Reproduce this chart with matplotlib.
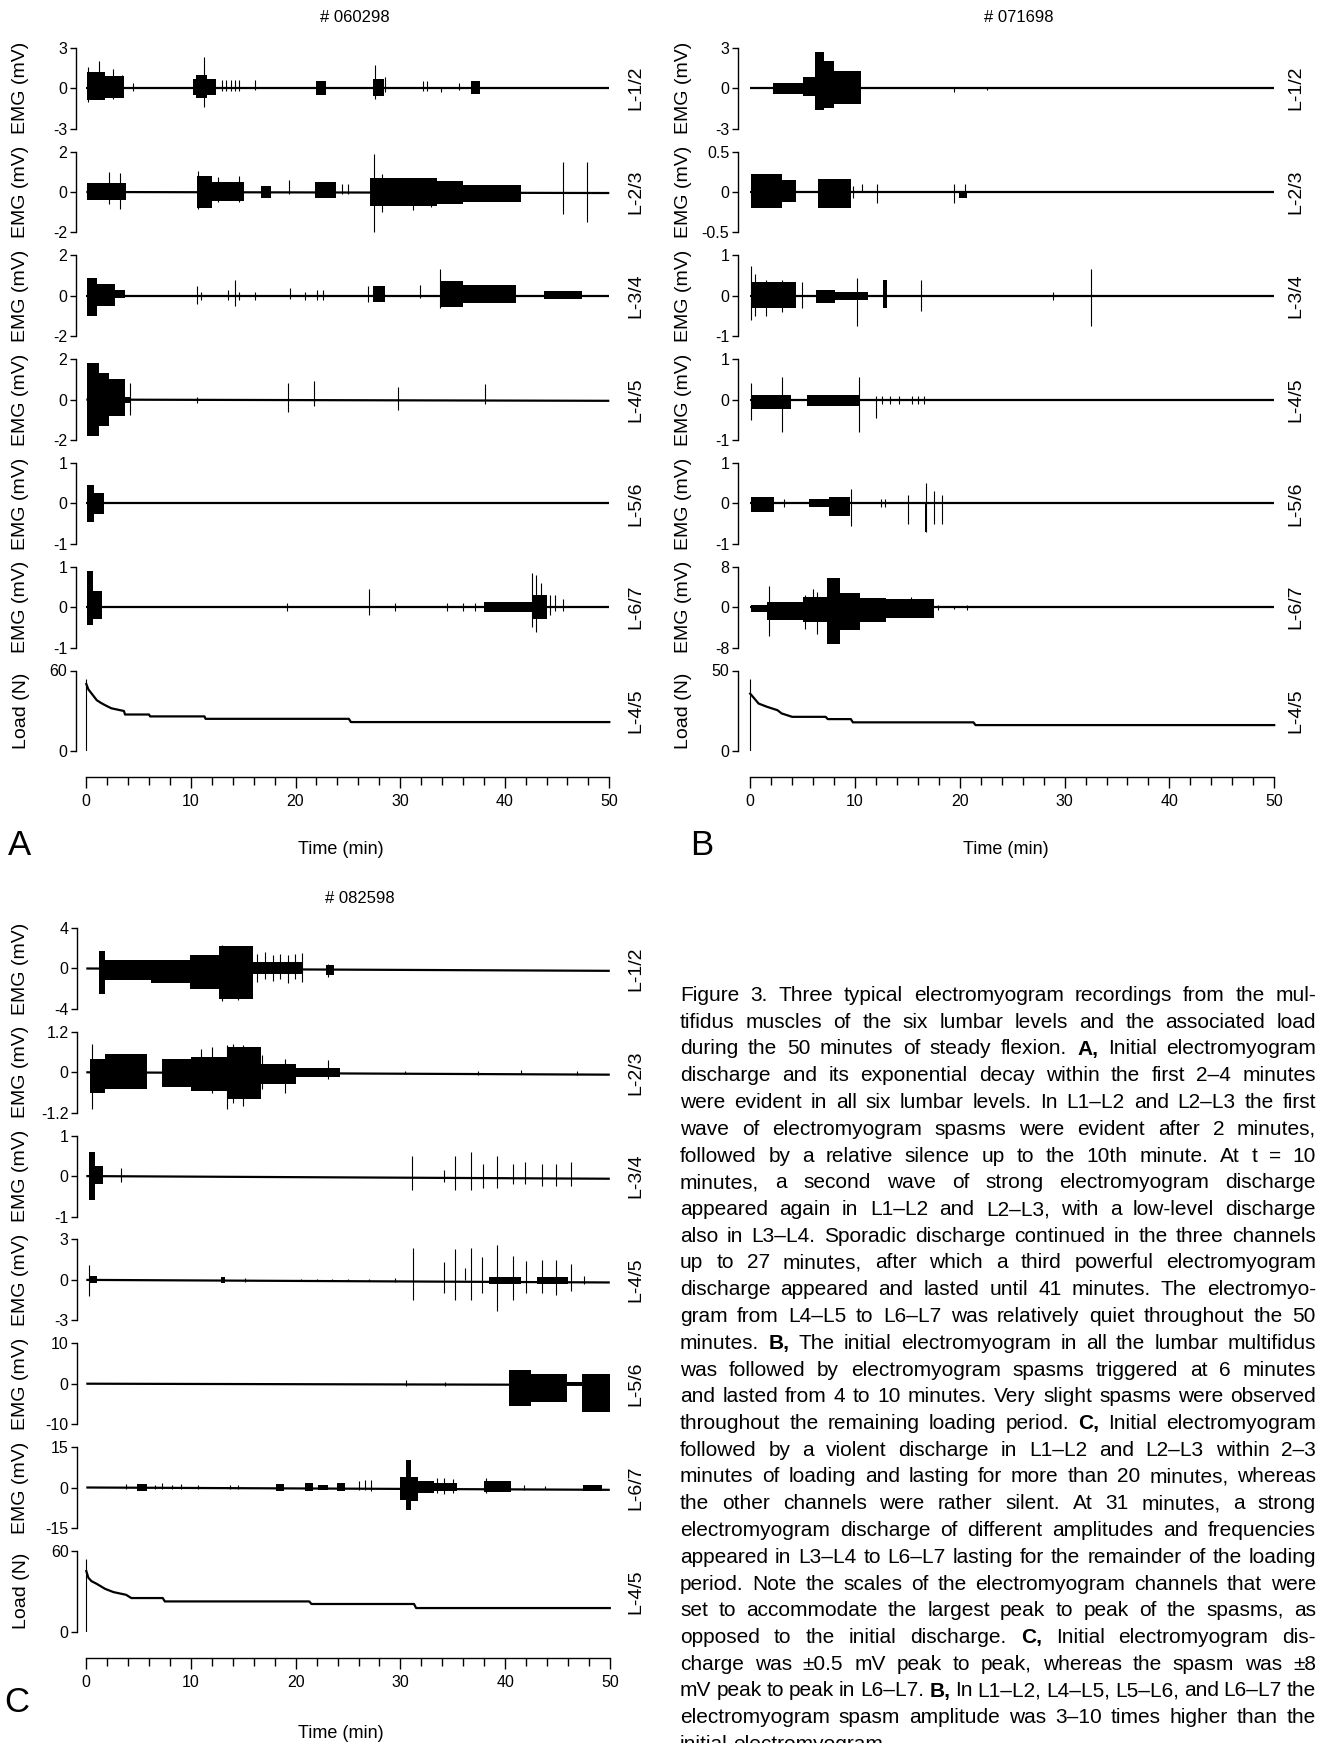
import numpy as np
import matplotlib.pyplot as plt

plt.rcParams['font.family'] = ['Liberation Sans Narrow', 'Liberation Sans', 'DejaVu Sans']
plt.rcParams['axes.unicode_minus'] = False

LEVELS = ['L-1/2', 'L-2/3', 'L-3/4', 'L-4/5', 'L-5/6', 'L-6/7']

# ---- panel A  (# 060298) ----
# bursts: (t start, t end, upper, lower)   spikes: (t, upper, lower)
A_LIMS = [3, 2, 2, 2, 1, 1]
A_BASE_END = [0, -0.05, 0, -0.06, 0, 0]
A_BURSTS = [
    [(0.1, 3.6, 0.9, -0.7), (0.1, 1.8, 1.2, -0.9), (10.2, 12.4, 0.7, -0.5), (10.5, 11.5, 1.0, -0.7),
     (22.0, 22.9, 0.5, -0.5), (27.4, 28.5, 0.7, -0.6), (36.8, 37.6, 0.5, -0.4)],
    [(0.1, 3.8, 0.45, -0.4), (10.6, 15.1, 0.5, -0.45), (10.6, 12.0, 0.8, -0.8), (16.7, 17.7, 0.3, -0.3),
     (21.9, 23.9, 0.5, -0.3), (27.1, 33.5, 0.7, -0.7), (33.5, 36.0, 0.55, -0.6), (36.0, 41.6, 0.35, -0.5)],
    [(0.1, 1.0, 0.9, -1.0), (1.0, 2.7, 0.6, -0.5), (2.7, 3.7, 0.3, -0.1), (27.4, 28.6, 0.5, -0.3),
     (33.8, 36.0, 0.75, -0.55), (36.0, 41.1, 0.55, -0.35), (43.8, 47.4, 0.25, -0.15)],
    [(0.1, 1.2, 1.8, -1.8), (1.2, 2.2, 1.3, -1.3), (2.2, 3.7, 1.0, -0.8), (3.7, 4.3, 0.15, -0.15)],
    [(0.05, 0.7, 0.45, -0.45), (0.7, 1.7, 0.25, -0.25)],
    [(0.1, 0.6, 0.9, -0.45), (0.6, 1.5, 0.4, -0.3), (38.0, 42.6, 0.12, -0.12), (42.6, 44.0, 0.3, -0.3)],
]
A_SPIKES = [
    [(0.2, 1.6, -1.0), (1.2, 2.0, -0.6), (2.6, 1.4, -0.8), (3.4, 1.0, -0.6), (4.5, 0.4, -0.2),
     (11.3, 2.3, -1.4), (13.0, 0.6, -0.2), (13.4, 0.6, -0.2), (13.8, 0.6, -0.2), (14.2, 0.6, -0.2),
     (14.6, 0.6, -0.2), (16.1, 0.6, -0.1), (27.6, 1.75, -0.8), (28.6, 0.8, -0.3), (32.2, 0.5, -0.2),
     (32.6, 0.5, -0.2), (33.9, 0.1, -0.3), (35.6, 0.4, -0.1)],
    [(2.2, 1.0, -0.6), (3.2, 0.95, -0.85), (10.7, 1.05, -0.85), (12.6, 0.75, -0.5), (14.6, 0.8, -0.5),
     (19.4, 0.6, -0.1), (24.4, 0.4, -0.1), (25.0, 0.4, -0.1), (27.5, 1.9, -2.0), (28.3, 0.9, -1.0),
     (31.2, 0.6, -0.9), (33.0, 0.6, -0.75), (45.6, 1.5, -1.1), (47.9, 1.5, -1.5)],
    [(10.6, 0.5, -0.4), (11.0, 0.2, -0.2), (13.5, 0.3, -0.2), (14.2, 0.8, -0.5), (14.6, 0.2, -0.2),
     (16.1, 0.2, -0.2), (19.5, 0.4, -0.15), (20.9, 0.2, -0.2), (22.1, 0.3, -0.2), (22.6, 0.3, -0.2),
     (26.9, 0.5, -0.3), (31.9, 0.55, -0.1), (33.8, 1.3, -0.6)],
    [(4.2, 0.8, -0.75), (10.6, 0.15, -0.15), (19.3, 0.8, -0.6), (21.8, 0.9, -0.3), (29.8, 0.6, -0.5),
     (38.1, 0.75, -0.2)],
    [],
    [(19.2, 0.1, -0.1), (27.0, 0.45, -0.2), (29.5, 0.1, -0.1), (34.5, 0.1, -0.1), (36.0, 0.1, -0.1),
     (37.2, 0.1, -0.1), (42.6, 0.85, -0.5), (43.0, 0.8, -0.6), (43.5, 0.6, -0.2), (44.3, 0.3, -0.2),
     (44.8, 0.3, -0.1), (45.6, 0.2, -0.1)],
]
A_LOAD_T = [0, 0.2, 0.4, 0.7, 1.0, 1.4, 1.8, 2.4, 3.6, 3.7, 6.0, 6.1, 11.3, 11.4, 25.1, 25.3, 50]
A_LOAD_N = [50, 46, 44, 41, 38, 36, 34.3, 32, 30, 27.4, 27.4, 26, 26, 24.2, 24.2, 21.8, 21.8]
A_LOAD_PEAK, A_LOAD_MAX = 54, 60

# ---- panel B  (# 071698) ----
B_LIMS = [3, 0.5, 1, 1, 1, 8]
B_BASE_END = [0, 0, 0, 0, 0, 0]
B_BURSTS = [
    [(2.2, 5.8, 0.4, -0.45), (5.0, 6.2, 0.8, -0.6), (6.2, 7.0, 2.7, -1.6), (7.0, 8.0, 2.0, -1.5),
     (8.0, 10.6, 1.3, -1.2)],
    [(0.1, 3.0, 0.22, -0.2), (3.0, 4.4, 0.15, -0.12), (6.5, 9.6, 0.16, -0.2), (19.9, 20.7, 0.0, -0.08)],
    [(0.1, 4.4, 0.35, -0.3), (6.3, 8.1, 0.15, -0.18), (8.1, 11.2, 0.1, -0.1), (12.7, 13.1, 0.38, -0.3)],
    [(0.1, 3.9, 0.12, -0.22), (5.4, 10.5, 0.12, -0.15)],
    [(0.05, 2.25, 0.15, -0.2), (5.6, 7.5, 0.12, -0.1), (7.5, 9.5, 0.15, -0.3), (16.7, 16.9, 0.0, -0.7)],
    [(0.1, 1.6, 0.5, -1.0), (1.6, 5.0, 1.0, -2.5), (5.0, 7.3, 2.0, -3.0), (7.3, 8.6, 5.7, -7.2),
     (8.6, 10.5, 2.8, -4.5), (10.5, 13.0, 1.8, -3.0), (13.0, 17.5, 1.6, -2.2)],
]
B_SPIKES = [
    [(10.4, 1.3, -1.0), (19.4, 0.1, -0.3), (22.6, 0.1, -0.1)],
    [(9.8, 0.08, -0.08), (10.7, 0.1, 0.0), (12.1, 0.1, -0.14), (19.4, 0.1, -0.14), (20.5, 0.1, 0.0)],
    [(0.1, 0.73, -0.6), (0.5, 0.55, -0.5), (1.5, 0.4, -0.5), (3.0, 0.4, -0.4), (4.9, 0.35, -0.3),
     (10.2, 0.45, -0.75), (16.3, 0.38, -0.38), (28.9, 0.1, -0.1), (32.5, 0.65, -0.75)],
    [(0.1, 0.4, -0.5), (3.0, 0.55, -0.8), (10.4, 0.57, -0.8), (12.0, 0.1, -0.45), (12.6, 0.08, -0.1),
     (13.3, 0.08, -0.1), (14.2, 0.08, -0.1), (15.4, 0.08, -0.1), (16.0, 0.08, -0.1), (16.6, 0.08, -0.1)],
    [(3.2, 0.1, -0.1), (9.6, 0.35, -0.55), (12.5, 0.1, -0.1), (12.9, 0.1, -0.1), (15.1, 0.2, -0.5),
     (16.8, 0.5, -0.7), (17.5, 0.3, -0.5), (18.3, 0.2, -0.5)],
    [(1.8, 4.1, -5.6), (5.2, 2.5, -4.3), (6.0, 3.5, -2.5), (6.4, 3.0, -5.3), (15.3, 2.0, -2.0),
     (17.9, 0.5, -0.5), (19.4, 0.3, -0.3), (20.7, 0.5, -0.5)],
]
B_LOAD_T = [0, 0.4, 0.8, 1.6, 2.6, 3.0, 4.0, 7.2, 7.4, 9.6, 9.8, 21.3, 21.5, 50]
B_LOAD_N = [35.7, 32.7, 29.6, 27.6, 25.5, 23.5, 21.4, 21.4, 20.0, 20.0, 18.0, 18.0, 16.3, 16.3]
B_LOAD_PEAK, B_LOAD_MAX = 44.5, 50

# ---- panel C  (# 082598) ----
C_LIMS = [4, 1.2, 1, 3, 10, 15]
C_BASE_END = [-0.23, -0.07, -0.065, -0.19, -0.3, -0.86]
C_BURSTS = [
    [(1.2, 1.8, 1.7, -2.5), (1.8, 6.2, 0.8, -1.1), (6.2, 9.9, 0.8, -1.4), (9.9, 12.7, 1.3, -2.0),
     (12.7, 15.9, 2.2, -3.0), (15.9, 20.7, 0.6, -0.5), (22.9, 23.7, 0.3, -0.6)],
    [(0.4, 1.8, 0.4, -0.6), (1.8, 5.8, 0.55, -0.5), (7.2, 10.0, 0.4, -0.45), (10.0, 13.5, 0.45, -0.55),
     (13.5, 16.7, 0.75, -0.8), (16.7, 20.0, 0.25, -0.35), (20.0, 24.2, 0.12, -0.15)],
    [(0.3, 0.8, 0.6, -0.6), (0.8, 1.6, 0.25, -0.2)],
    [(0.3, 1.0, 0.3, -0.2), (12.9, 13.2, 0.25, -0.25), (38.5, 41.5, 0.2, -0.3), (43.0, 46.0, 0.2, -0.3)],
    [(40.4, 42.5, 3.5, -5.5), (42.5, 45.9, 2.5, -4.5), (45.9, 47.3, 0.3, -0.3), (47.3, 50.0, 2.5, -7.0)],
    [(4.8, 5.8, 1.3, -1.2), (18.1, 18.9, 1.4, -1.2), (20.9, 21.7, 1.8, -1.3), (22.1, 23.1, 1.0, -1.0),
     (23.9, 24.7, 1.5, -1.3), (30.0, 30.5, 4.0, -4.5), (30.5, 31.0, 10.0, -8.5), (31.0, 31.7, 4.0, -5.0),
     (31.7, 33.2, 2.5, -2.0), (33.2, 35.4, 1.5, -1.2), (38.0, 40.6, 2.5, -1.5), (47.4, 49.3, 1.0, -1.2)],
]
C_SPIKES = [
    [(13.0, 2.3, -3.2), (14.5, 2.2, -3.1), (16.3, 1.4, -1.3), (17.1, 1.6, -1.0), (17.8, 1.3, -1.2),
     (18.5, 1.4, -1.0), (19.3, 1.3, -1.4), (19.9, 1.4, -1.0), (20.6, 1.5, -1.3), (23.1, 0.4, -0.8)],
    [(0.5, 0.85, -1.1), (11.0, 0.7, -0.5), (12.0, 0.75, -0.6), (13.4, 0.8, -1.1), (14.0, 0.85, -0.9),
     (15.0, 0.8, -1.0), (16.8, 0.5, -0.5), (19.0, 0.4, -0.6), (23.1, 0.35, -0.2), (30.4, 0.05, -0.05),
     (37.4, 0.05, -0.08), (41.5, 0.08, -0.05), (46.9, 0.05, -0.08)],
    [(3.3, 0.2, -0.15), (31.1, 0.5, -0.35), (34.2, 0.15, -0.15), (35.2, 0.5, -0.35), (36.7, 0.6, -0.35),
     (37.9, 0.3, -0.3), (39.2, 0.5, -0.3), (40.8, 0.3, -0.2), (41.9, 0.35, -0.2), (43.5, 0.3, -0.25),
     (44.9, 0.3, -0.25), (46.3, 0.35, -0.25)],
    [(0.3, 1.1, -1.2), (15.2, 0.15, -0.15), (20.5, 0.1, -0.1), (22.0, 0.1, -0.1), (23.5, 0.1, -0.1),
     (25.0, 0.1, -0.1), (27.0, 0.1, -0.1), (29.5, 0.15, -0.15), (31.2, 2.4, -1.5), (34.2, 1.3, -0.95),
     (35.2, 2.3, -1.5), (36.2, 0.9, 0.0), (36.7, 2.4, -1.5), (37.8, 1.7, -1.0), (39.2, 2.6, -2.3),
     (40.8, 1.8, -1.5), (42.0, 1.4, -1.0), (43.5, 1.5, -1.0), (44.9, 1.5, -1.1), (46.3, 1.2, -0.8),
     (47.5, 0.3, -0.3)],
    [(30.5, 1.0, -0.5), (34.3, 0.5, -0.5)],
    [(3.8, 1.2, -0.5), (6.6, 1.0, -0.6), (7.2, 1.5, -0.6), (8.2, 0.8, -0.5), (9.0, 1.2, -0.6),
     (10.7, 0.8, -0.5), (13.7, 0.9, -0.5), (14.5, 0.9, -0.5), (26.0, 2.5, -1.0), (26.6, 2.8, -1.0),
     (27.2, 2.8, -1.2), (33.5, 3.5, -2.0), (34.2, 3.5, -2.5), (35.0, 3.0, -2.0), (38.2, 3.6, -2.0),
     (41.8, 1.0, -1.0), (43.8, 0.7, -0.5)],
]
C_LOAD_T = [0, 0.2, 0.5, 1.0, 1.8, 2.6, 3.8, 4.3, 7.3, 7.5, 21.3, 21.5, 31.3, 31.5, 50]
C_LOAD_N = [45, 40, 37.5, 35.5, 31.8, 29.4, 27.4, 25.0, 25.0, 22.5, 22.5, 20.6, 20.6, 17.6, 17.6]
C_LOAD_PEAK, C_LOAD_MAX = 54, 60

CAPTION = [
    "Figure 3.  Three typical electromyogram recordings from the mul-",
    "tifidus muscles of the six lumbar levels and the associated load",
    "during the 50 minutes of steady flexion. *A,* Initial electromyogram",
    "discharge and its exponential decay within the first 2\u20134 minutes",
    "were evident in all six lumbar levels. In L1\u2013L2 and L2\u2013L3 the first",
    "wave of electromyogram spasms were evident after 2 minutes,",
    "followed by a relative silence up to the 10th minute. At t = 10",
    "minutes, a second wave of strong electromyogram discharge",
    "appeared again in L1\u2013L2 and L2\u2013L3, with a low-level discharge",
    "also in L3\u2013L4. Sporadic discharge continued in the three channels",
    "up to 27 minutes, after which a third powerful electromyogram",
    "discharge appeared and lasted until 41 minutes. The electromyo-",
    "gram from L4\u2013L5 to L6\u2013L7 was relatively quiet throughout the 50",
    "minutes. *B,* The initial electromyogram in all the lumbar multifidus",
    "was followed by electromyogram spasms triggered at 6 minutes",
    "and lasted from 4 to 10 minutes. Very slight spasms were observed",
    "throughout the remaining loading period. *C,* Initial electromyogram",
    "followed by a violent discharge in L1\u2013L2 and L2\u2013L3 within 2\u20133",
    "minutes of loading and lasting for more than 20 minutes, whereas",
    "the other channels were rather silent. At 31 minutes, a strong",
    "electromyogram discharge of different amplitudes and frequencies",
    "appeared in L3\u2013L4 to L6\u2013L7 lasting for the remainder of the loading",
    "period. Note the scales of the electromyogram channels that were",
    "set to accommodate the largest peak to peak of the spasms, as",
    "opposed to the initial discharge. *C,* Initial electromyogram dis-",
    "charge was \u00b10.5 mV peak to peak, whereas the spasm was \u00b18",
    "mV peak to peak in L6\u2013L7. *B,* In L1\u2013L2, L4\u2013L5, L5\u2013L6, and L6\u2013L7 the",
    "electromyogram spasm amplitude was 3\u201310 times higher than the",
    "initial electromyogram.",
]

W, H = 1318, 1743
fig = plt.figure(figsize=(W / 100, H / 100), dpi=100)

ROW_STEP = 103.8
ROW_H = 81
T_MAX = 50.5
TICK_FS = 11.5
LAB_FS = 14


def add_ax(x0, y0, x1, y1):
    return fig.add_axes([x0 / W, 1 - y1 / H, (x1 - x0) / W, (y1 - y0) / H])


def ftext(x, y, s, **kw):
    return fig.text(x / W, 1 - y / H, s, ha='center', va='center', **kw)


def style_left(ax, lo, hi, ticks, labels):
    for s in ['top', 'right', 'bottom']:
        ax.spines[s].set_visible(False)
    ax.spines['left'].set_linewidth(1.0)
    ax.set_ylim(lo, hi)
    ax.set_yticks(ticks)
    ax.set_yticklabels(labels)
    ax.set_xticks([])
    ax.tick_params(axis='y', length=4, width=1.0, pad=2, labelsize=TICK_FS)
    ax.patch.set_visible(False)


def draw_panel(g, title, lims, bursts, spikes, base_end, load_t, load_n, load_peak, load_max, letter):
    xs, t0x, k, top0 = g['spine'], g['t0'], g['k'], g['top']
    tmin = -(t0x - xs) / k
    xr = t0x + T_MAX * k
    ftext(g['title_x'], g['title_y'], title, fontsize=12)
    for i in range(7):
        y0 = top0 + i * ROW_STEP
        ax = add_ax(xs, y0, xr, y0 + ROW_H)
        ax.set_xlim(tmin, T_MAX)
        yc = y0 + ROW_H / 2
        if i < 6:
            m = lims[i]
            style_left(ax, -m, m, [-m, 0, m], [f'{-m:g}', '0', f'{m:g}'])
            ax.plot([0, 50], [0, base_end[i]], color='black', lw=1.6, solid_capstyle='butt')
            for ta, tb, hi, lo in bursts[i]:
                ax.fill_between([ta, tb], [lo, lo], [hi, hi], color='black', lw=0)
            if spikes[i]:
                st, sh, sl = zip(*spikes[i])
                ax.vlines(st, sl, sh, color='black', lw=0.8)
            ftext(g['ylab_x'], yc, 'EMG (mV)', rotation=90, fontsize=LAB_FS)
            ftext(g['lab_x'], yc, LEVELS[i], rotation=90, fontsize=LAB_FS)
        else:
            style_left(ax, 0, load_max, [0, load_max], ['0', str(load_max)])
            ax.vlines([0], 0, load_peak, color='black', lw=0.8)
            ax.plot(load_t, load_n, color='black', lw=1.6)
            ftext(g['ylab_x'], yc, 'Load (N)', rotation=90, fontsize=LAB_FS)
            ftext(g['lab_x'], yc, 'L-4/5', rotation=90, fontsize=LAB_FS)

    ty = g['time_y']
    tax = add_ax(t0x, ty - 2, t0x + 50 * k, ty)
    for s in ['top', 'right', 'left']:
        tax.spines[s].set_visible(False)
    tax.spines['bottom'].set_linewidth(1.0)
    tax.patch.set_visible(False)
    tax.set_xlim(0, 50)
    tax.set_yticks([])
    tax.set_xticks(range(0, 51, 10))
    tax.set_xticks(range(0, 51, 2), minor=True)
    tax.tick_params(axis='x', which='major', length=8, width=1.0, pad=4, labelsize=TICK_FS)
    tax.tick_params(axis='x', which='minor', length=6, width=1.0)
    ftext(g['time_lab_x'], g['time_lab_y'], 'Time (min)', fontsize=LAB_FS - 1)
    ftext(g['letter_x'], g['letter_y'], letter, fontsize=25)


GA = dict(spine=75.8, t0=86.3, k=10.46, top=47.7, title_x=355, title_y=17, ylab_x=21, lab_x=636,
          time_y=777, time_lab_x=341, time_lab_y=850, letter_x=19, letter_y=845)
GB = dict(spine=737.6, t0=750.2, k=10.48, top=47.7, title_x=1019, title_y=17, ylab_x=683, lab_x=1296,
          time_y=777, time_lab_x=1006, time_lab_y=850, letter_x=702, letter_y=845)
GC = dict(spine=77.0, t0=86.3, k=10.47, top=928, title_x=360, title_y=898, ylab_x=21, lab_x=636,
          time_y=1658, time_lab_x=341, time_lab_y=1733, letter_x=17, letter_y=1703)

draw_panel(GA, '# 060298', A_LIMS, A_BURSTS, A_SPIKES, A_BASE_END,
           A_LOAD_T, A_LOAD_N, A_LOAD_PEAK, A_LOAD_MAX, 'A')
draw_panel(GB, '# 071698', B_LIMS, B_BURSTS, B_SPIKES, B_BASE_END,
           B_LOAD_T, B_LOAD_N, B_LOAD_PEAK, B_LOAD_MAX, 'B')
draw_panel(GC, '# 082598', C_LIMS, C_BURSTS, C_SPIKES, C_BASE_END,
           C_LOAD_T, C_LOAD_N, C_LOAD_PEAK, C_LOAD_MAX, 'C')

# caption, justified word by word
CAP_X0, CAP_X1 = 680, 1316
CAP_Y0, CAP_DY = 1001, 26.75
cap_fs = 15
renderer = fig.canvas.get_renderer()


def measure(line, fs):
    out = []
    for w in line.split():
        bold = w.startswith('*')
        t = fig.text(0, 0, w.strip('*'), fontsize=fs, weight='bold' if bold else 'normal',
                     ha='left', va='baseline')
        out.append((t, t.get_window_extent(renderer).width))
    return out


probe = fig.text(0, 0, 'a a', fontsize=cap_fs)
probe2 = fig.text(0, 0, 'aa', fontsize=cap_fs)
space_w = probe.get_window_extent(renderer).width - probe2.get_window_extent(renderer).width
probe.remove()
probe2.remove()

for i, line in enumerate(CAPTION):
    words = measure(line, cap_fs)
    total = sum(w for _, w in words)
    n = len(words)
    if i < len(CAPTION) - 1 and n > 1:
        gap = (CAP_X1 - CAP_X0 - total) / (n - 1)
        gap = max(gap, space_w * 0.6)
    else:
        gap = space_w
    x = CAP_X0
    y = CAP_Y0 + i * CAP_DY
    for t, w in words:
        t.set_position((x / W, 1 - y / H))
        x += w + gap

fig.savefig('out.png', dpi=100)
